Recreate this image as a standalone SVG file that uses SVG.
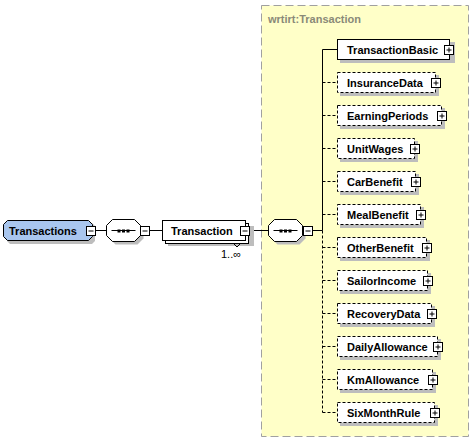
<svg xmlns="http://www.w3.org/2000/svg" width="476" height="444" viewBox="0 0 476 444">
<style>
.lbl{font-family:"Liberation Sans",Arial,sans-serif;font-size:11px;font-weight:bold;fill:#000}
.card{font-family:"Liberation Sans",Arial,sans-serif;font-size:11px;fill:#000}
.shadow{fill:#bdbdbd}
.box{fill:#fff;stroke:#000;stroke-width:1}
.opt{fill:#fff;stroke:#000;stroke-width:1;stroke-dasharray:3,2}
.ln{stroke:#000;stroke-width:1;fill:none}
.dln{stroke:#000;stroke-width:1;fill:none;stroke-dasharray:3,2}
.tog{fill:#fff;stroke:#000;stroke-width:1}
</style>
<defs>
<g id="plus"><rect class="tog" x="0" y="0" width="9" height="9"/><path class="ln" d="M2 4.5H7M4.5 2V7"/></g>
<g id="minus"><rect class="tog" x="0" y="0" width="9" height="9"/><path class="ln" d="M2 4.5H7"/></g>
<g id="seq">
<polygon class="shadow" points="9,3 31,3 37,9 37,19 31,25 9,25 3,19 3,9"/>
<polygon class="box" points="6,0 28,0 34,6 34,16 28,22 6,22 0,16 0,6"/>
<path class="ln" d="M5 11H29"/>
<rect x="11" y="10" width="3" height="3" fill="#000"/>
<rect x="15.5" y="10" width="3" height="3" fill="#000"/>
<rect x="20" y="10" width="3" height="3" fill="#000"/>
</g>
</defs>

<g id="typebox">
<rect x="261.5" y="5.5" width="207" height="431" fill="#ffffc8" stroke="#a0a0a0" stroke-dasharray="8,4"/>
<text x="268" y="23" font-family="Liberation Sans, Arial, sans-serif" font-size="11" font-weight="bold" fill="#8a8a78">wrtirt:Transaction</text>
</g>

<g id="connectors">
<path class="ln" d="M96 230.5H107"/>
<path class="ln" d="M150 230.5H162"/>
<path class="ln" d="M250 230.5H268"/>
<path class="ln" d="M312 230.5H322.5"/>
<path class="ln" d="M322.5 49.5V230.5"/>
<path class="dln" d="M322.5 230.5V412.5"/>
<path class="ln" d="M322.5 49.5H337"/>
<path class="dln" d="M322.5 82.5H337M322.5 115.5H337M322.5 148.5H337M322.5 181.5H337M322.5 214.5H337M322.5 247.5H337M322.5 280.5H337M322.5 313.5H337M322.5 346.5H337M322.5 379.5H337M322.5 412.5H337"/>
</g>

<g id="n-transactions">
<polygon class="shadow" points="10,223 92,223 95,226 95,241 92,244 10,244 7,241 7,226"/>
<polygon fill="#a9c6ee" stroke="#000" points="7.5,220.5 88.5,220.5 92.5,224.5 92.5,236.5 88.5,240.5 7.5,240.5 3.5,236.5 3.5,224.5"/>
<text class="lbl" x="9" y="235">Transactions</text>
<use href="#minus" x="86.5" y="226.5"/>
</g>

<g id="n-seq1">
<use href="#seq" x="106.5" y="219.5"/>
<use href="#minus" x="140.5" y="226.5"/>
</g>

<g id="n-transaction">
<rect class="shadow" x="168" y="226" width="86" height="20"/>
<rect class="box" x="165.5" y="223.5" width="83" height="20"/>
<rect class="box" x="162.5" y="220.5" width="83" height="20"/>
<text class="lbl" x="171" y="235">Transaction</text>
<use href="#minus" x="240.5" y="226.5"/>
<polyline class="ln" points="233.5,243.5 237,247 240.5,243.5"/>
<text class="card" x="221" y="258">1..∞</text>
</g>

<g id="n-seq2">
<use href="#seq" x="268.5" y="219.5"/>
<use href="#minus" x="303.5" y="226.5"/>
</g>

<g id="n-transactionbasic">
<rect class="shadow" x="340" y="42" width="115" height="21"/>
<rect class="box" x="337.5" y="39.5" width="112" height="20"/>
<text class="lbl" x="347" y="54">TransactionBasic</text>
<use href="#plus" x="444.5" y="45.5"/>
</g>

<g id="n-insurancedata">
<rect class="shadow" x="340" y="75" width="99" height="21"/>
<rect class="opt" x="337.5" y="72.5" width="98" height="20"/>
<text class="lbl" x="347" y="87">InsuranceData</text>
<use href="#plus" x="431.5" y="78.5"/>
</g>

<g id="n-earningperiods">
<rect class="shadow" x="340" y="108" width="105" height="21"/>
<rect class="opt" x="337.5" y="105.5" width="104" height="20"/>
<text class="lbl" x="347" y="120">EarningPeriods</text>
<use href="#plus" x="437.5" y="111.5"/>
</g>

<g id="n-unitwages">
<rect class="shadow" x="340" y="141" width="78" height="21"/>
<rect class="opt" x="337.5" y="138.5" width="77" height="20"/>
<text class="lbl" x="347" y="153">UnitWages</text>
<use href="#plus" x="410.5" y="144.5"/>
</g>

<g id="n-carbenefit">
<rect class="shadow" x="340" y="174" width="79" height="21"/>
<rect class="opt" x="337.5" y="171.5" width="78" height="20"/>
<text class="lbl" x="347" y="186">CarBenefit</text>
<use href="#plus" x="411.5" y="177.5"/>
</g>

<g id="n-mealbenefit">
<rect class="shadow" x="340" y="207" width="84" height="21"/>
<rect class="opt" x="337.5" y="204.5" width="83" height="20"/>
<text class="lbl" x="347" y="219">MealBenefit</text>
<use href="#plus" x="416.5" y="210.5"/>
</g>

<g id="n-otherbenefit">
<rect class="shadow" x="340" y="240" width="90" height="21"/>
<rect class="opt" x="337.5" y="237.5" width="89" height="20"/>
<text class="lbl" x="347" y="252">OtherBenefit</text>
<use href="#plus" x="422.5" y="243.5"/>
</g>

<g id="n-sailorincome">
<rect class="shadow" x="340" y="273" width="91" height="21"/>
<rect class="opt" x="337.5" y="270.5" width="90" height="20"/>
<text class="lbl" x="347" y="285">SailorIncome</text>
<use href="#plus" x="423.5" y="276.5"/>
</g>

<g id="n-recoverydata">
<rect class="shadow" x="340" y="306" width="95" height="21"/>
<rect class="opt" x="337.5" y="303.5" width="94" height="20"/>
<text class="lbl" x="347" y="318">RecoveryData</text>
<use href="#plus" x="427.5" y="309.5"/>
</g>

<g id="n-dailyallowance">
<rect class="shadow" x="340" y="339" width="101" height="21"/>
<rect class="opt" x="337.5" y="336.5" width="100" height="20"/>
<text class="lbl" x="347" y="351">DailyAllowance</text>
<use href="#plus" x="433.5" y="342.5"/>
</g>

<g id="n-kmallowance">
<rect class="shadow" x="340" y="372" width="96" height="21"/>
<rect class="opt" x="337.5" y="369.5" width="95" height="20"/>
<text class="lbl" x="347" y="384">KmAllowance</text>
<use href="#plus" x="428.5" y="375.5"/>
</g>

<g id="n-sixmonthrule">
<rect class="shadow" x="340" y="405" width="98" height="21"/>
<rect class="opt" x="337.5" y="402.5" width="97" height="20"/>
<text class="lbl" x="347" y="417">SixMonthRule</text>
<use href="#plus" x="430.5" y="408.5"/>
</g>
</svg>
